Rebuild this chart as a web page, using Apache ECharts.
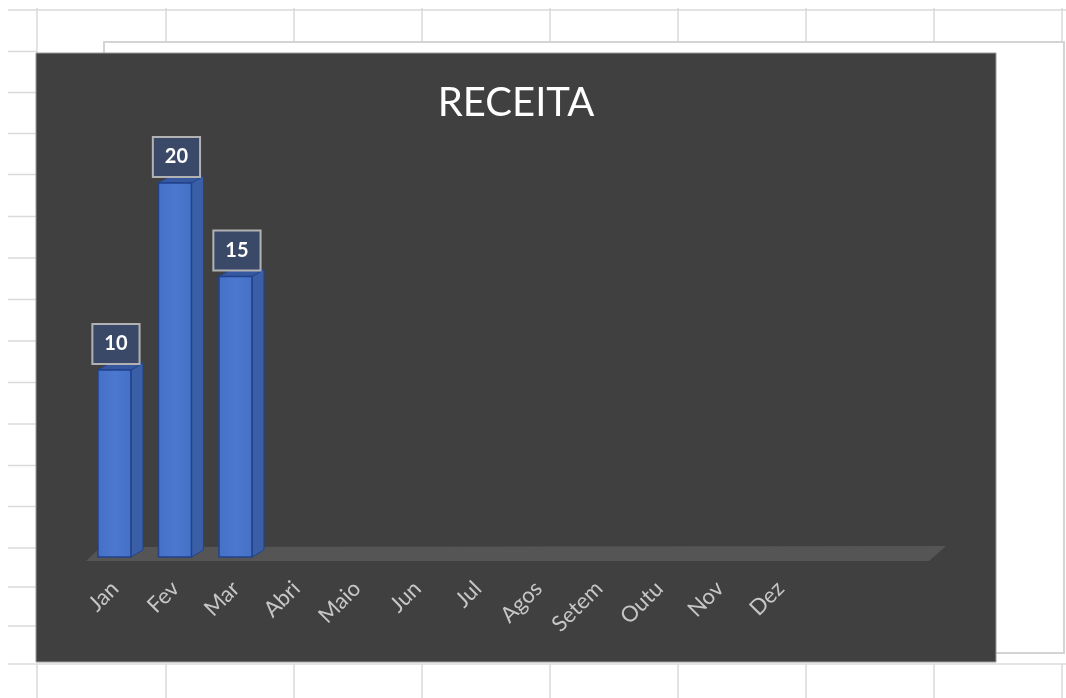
<!DOCTYPE html>
<html>
<head>
<meta charset="utf-8">
<script src="https://cdn.jsdelivr.net/npm/echarts@6/dist/echarts.min.js"></script>
<style>
  html, body { margin: 0; padding: 0; background: #ffffff; }
  #chart { width: 1066px; height: 698px; }
</style>
</head>
<body>
<div id="chart"></div>
<script>
// Monthly revenue
const months = ['Jan', 'Fev', 'Mar', 'Abri', 'Maio', 'Jun', 'Jul', 'Agos', 'Setem', 'Outu', 'Nov', 'Dez'];
const receita = [10, 20, 15, null, null, null, null, null, null, null, null, null];
const chartTitle = 'RECEITA';

// Spreadsheet cell grid behind the chart object
const sheetCols = [37, 166, 294, 422, 550, 678, 806, 934, 1062];
const sheetRows = [10, 51.5, 92.5, 133.5, 174.5, 216.5, 258, 299.5, 341, 382.5, 424, 465.5, 506.5, 548, 587, 626, 664];

const FONT = 'Lato, "Open Sans", sans-serif';

const chart = echarts.init(document.getElementById('chart'), null, { renderer: 'canvas' });

const bg = [];
const gridColor = '#dadada';
// horizontal lines left of the chart
sheetRows.forEach(function (y, i) {
  const x2 = (i === 0 || i === sheetRows.length - 1) ? 1066 : 37;
  bg.push({ type: 'line', z: -10, shape: { x1: 8, y1: y, x2: x2, y2: y }, style: { stroke: gridColor, lineWidth: 1.5 } });
});
// vertical lines above and below the chart
sheetCols.forEach(function (x) {
  bg.push({ type: 'line', z: -10, shape: { x1: x, y1: 8, x2: x, y2: 53 }, style: { stroke: gridColor, lineWidth: 1.5 } });
  bg.push({ type: 'line', z: -10, shape: { x1: x, y1: 664, x2: x, y2: 698 }, style: { stroke: gridColor, lineWidth: 1.5 } });
});
// white frame offset behind the chart
bg.push({ type: 'rect', z: -9, shape: { x: 104, y: 42, width: 960, height: 611 }, style: { fill: '#ffffff', stroke: '#d4d4d4', lineWidth: 2 } });
// dark chart area
bg.push({ type: 'rect', z: -8, shape: { x: 36, y: 53, width: 960, height: 609 }, style: { fill: '#404040', stroke: '#9a9a9a', lineWidth: 1 } });
// title
bg.push({ type: 'text', z: -7, style: { text: chartTitle, x: 516, y: 103, align: 'center', verticalAlign: 'middle', fill: '#ffffff', font: '40px ' + FONT } });

chart.setOption({
  animation: false,
  backgroundColor: '#ffffff',
  graphic: { elements: bg },
  grid: { left: 84.7, width: 726, top: 89.5, bottom: 141 },
  xAxis: {
    type: 'category',
    data: months,
    axisLine: { show: false },
    axisTick: { show: false },
    axisLabel: { rotate: 45, margin: 28, color: '#c6c6c6', fontSize: 22, fontFamily: FONT, interval: 0 }
  },
  yAxis: {
    type: 'value', min: 0, max: 25, show: false,
    splitLine: { show: false }
  },
  series: [
    {
      // floor of the 3D plot
      type: 'custom',
      z: 1,
      silent: true,
      data: [[0, 0]],
      renderItem: function (params, api) {
        const p = api.coord([0, 0]);
        const y = p[1];
        return {
          type: 'polygon',
          shape: { points: [[86, y + 4], [101, y - 10], [946, y - 11], [929, y + 4]] },
          style: { fill: '#555555' }
        };
      }
    },
    {
      type: 'custom',
      z: 3,
      data: receita.map(function (v, i) { return [i, v]; }),
      renderItem: function (params, api) {
        const v = api.value(1);
        if (v == null || isNaN(v)) return null;
        const top = api.coord([api.value(0), v]);
        const base = api.coord([api.value(0), 0]);
        const w = 33, dx = 12, dy = 7;
        const cx = top[0] - 0.5;
        const x0 = cx - w / 2, x1 = cx + w / 2;
        const yt = top[1], yb = base[1];
        return {
          type: 'group',
          children: [
            { type: 'polygon', shape: { points: [[x1, yt], [x1 + dx, yt - dy], [x1 + dx, yb - dy], [x1, yb]] },
              style: { fill: '#3a5fa6', stroke: '#24468e', lineWidth: 1 } },
            { type: 'polygon', shape: { points: [[x0, yt], [x0 + dx, yt - dy], [x1 + dx, yt - dy], [x1, yt]] },
              style: { fill: '#3658a0', stroke: '#24468e', lineWidth: 1 } },
            { type: 'rect', shape: { x: x0, y: yt, width: w, height: yb - yt },
              style: {
                fill: new echarts.graphic.LinearGradient(0, 0, 1, 0, [
                  { offset: 0, color: '#4470c6' }, { offset: 0.5, color: '#4c79cf' }, { offset: 1, color: '#4470c6' }
                ]),
                stroke: '#21418a', lineWidth: 1.5 } },
            { type: 'text', z2: 10, style: {
                text: String(v), x: cx + 1.5, y: yt - 7, align: 'center', verticalAlign: 'bottom',
                fill: '#ffffff', font: 'bold 20px ' + FONT, lineHeight: 20,
                backgroundColor: '#3b4968', borderColor: '#b2b2b2', borderWidth: 2, padding: [9, 11]
              } }
          ]
        };
      }
    }
  ]
});
</script>
</body>
</html>
